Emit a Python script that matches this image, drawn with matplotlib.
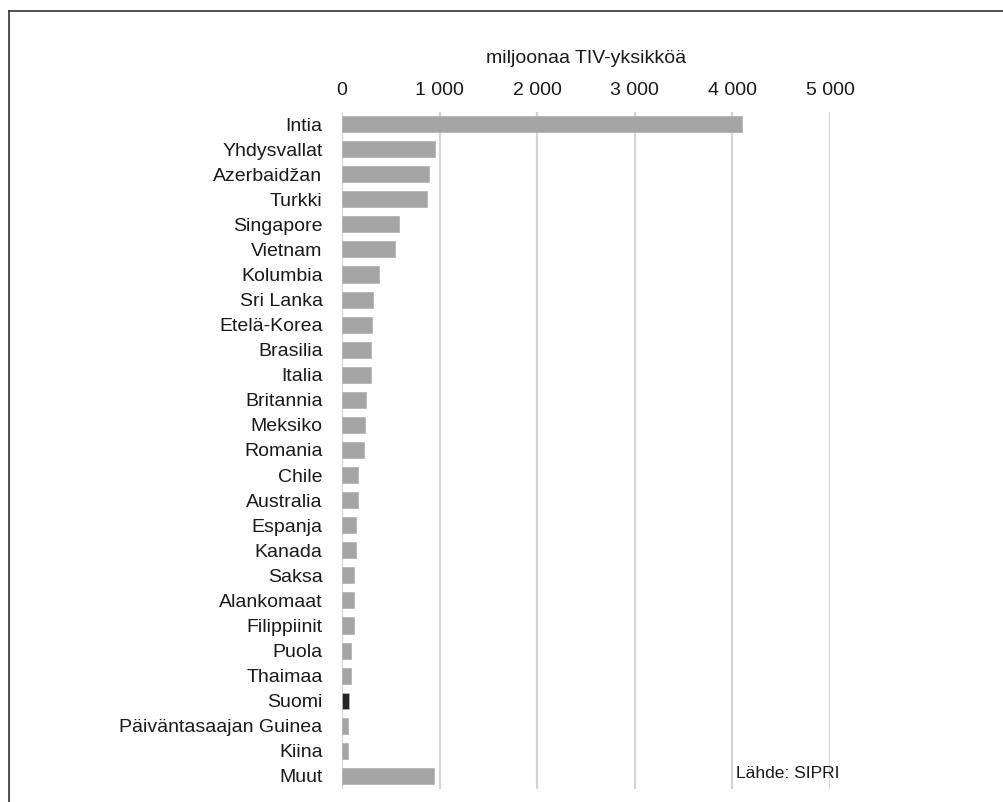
import matplotlib
matplotlib.use("Agg")
import matplotlib.pyplot as plt
from matplotlib.lines import Line2D

# arms imports, million TIV units
countries = ["Intia", "Yhdysvallat", "Azerbaidžan", "Turkki", "Singapore", "Vietnam",
             "Kolumbia", "Sri Lanka", "Etelä-Korea", "Brasilia", "Italia", "Britannia",
             "Meksiko", "Romania", "Chile", "Australia", "Espanja", "Kanada", "Saksa",
             "Alankomaat", "Filippiinit", "Puola", "Thaimaa", "Suomi",
             "Päiväntasaajan Guinea", "Kiina", "Muut"]
values = [4100, 955, 890, 873, 580, 542, 382, 320, 310, 300, 300, 249, 238, 228,
          160, 160, 146, 146, 126, 126, 120, 89, 89, 72, 58, 58, 945]
highlight = "Suomi"
xticks = [0, 1000, 2000, 3000, 4000, 5000]
xtick_labels = ["0", "1 000", "2 000", "3 000", "4 000", "5 000"]

plt.rcParams['font.family'] = ['Liberation Sans', 'DejaVu Sans']

fig = plt.figure(figsize=(10.04, 8.02), dpi=100)
ax = fig.add_axes([342 / 1004, 1 - 788.5 / 802, (830 - 342) / 1004, (788.5 - 111.5) / 802])

colors = ["#262626" if c == highlight else "#a5a5a5" for c in countries]
ypos = list(range(len(countries)))
ax.barh(ypos, values, height=0.64, color=colors, edgecolor="#b5b5b5", linewidth=0.6, zorder=3)

ax.set_ylim(len(countries) - 0.5, -0.5)
ax.set_xlim(0, 5000)
ax.set_yticks(ypos)
ax.set_yticklabels(countries, fontsize=14, color="#1a1a1a")
ax.set_xticks(xticks)
ax.set_xticklabels(xtick_labels, fontsize=14, color="#1a1a1a")
ax.xaxis.tick_top()
ax.tick_params(axis="y", length=0, pad=14)
ax.tick_params(axis="x", length=0, pad=9)
ax.xaxis.set_label_position("top")
ax.set_xlabel("miljoonaa TIV-yksikköä", fontsize=14, color="#1a1a1a", labelpad=14)

ax.grid(axis="x", color="#d4d4d4", linewidth=1.6, zorder=0)
for s in ax.spines.values():
    s.set_visible(False)

ax.text(840 / 1004, 1 - 773 / 802, "Lähde: SIPRI", transform=fig.transFigure,
        ha="right", va="center", fontsize=12.5, color="#1a1a1a")

# frame line (only top and left edges show in the picture)
fig.add_artist(Line2D([9 / 1004, 1], [1 - 11 / 802, 1 - 11 / 802], color="#333333", linewidth=1.2))
fig.add_artist(Line2D([9 / 1004, 9 / 1004], [0, 1 - 11 / 802], color="#333333", linewidth=1.2))

fig.savefig("out.png", dpi=100, facecolor="white")
